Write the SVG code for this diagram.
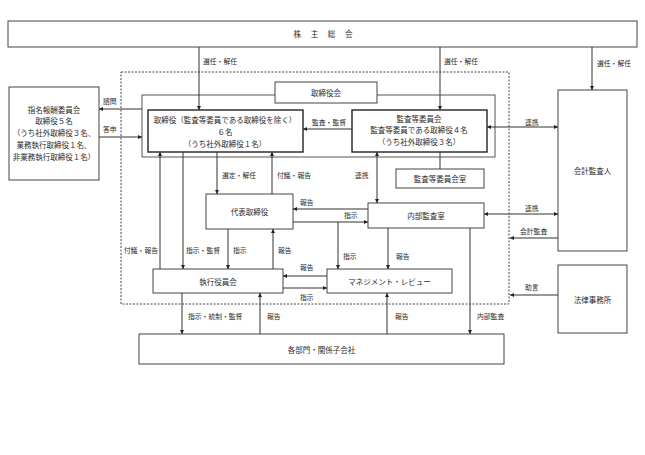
<svg xmlns="http://www.w3.org/2000/svg" width="645" height="455" viewBox="0 0 645 455">
<style>
  text { font-family: "Noto Sans CJK JP", "Noto Sans", sans-serif; fill: #2a2a2a; }
  .box { fill: #fff; stroke: #444; stroke-width: 1; }
  .bold { fill: #fff; stroke: #222; stroke-width: 1.4; }
  .t { font-size: 7.5px; text-anchor: middle; dominant-baseline: central; }
  .lbl { font-size: 6.8px; dominant-baseline: central; }
  .c { fill: none; stroke: #333; stroke-width: 1; }
</style>
<defs>
  <marker id="ah" viewBox="0 0 6 6" refX="6" refY="3" markerWidth="4" markerHeight="4" markerUnits="userSpaceOnUse" orient="auto-start-reverse">
    <path d="M0,0 L6,3 L0,6 Z" fill="#222"/>
  </marker>
</defs>
<rect width="645" height="455" fill="#fff"/>

<g id="dashed-frame">
  <rect x="121" y="72" width="388" height="232" fill="none" stroke="#444" stroke-width="1" stroke-dasharray="2,1.5"/>
</g>

<g id="kabunushi">
  <rect class="box" x="8" y="21" width="629" height="26"/>
  <text class="t" x="325" y="33.5" style="letter-spacing:4px">株 主 総 会</text>
</g>

<g id="torishimariyakukai-frame">
  <rect x="142" y="95" width="353" height="62" fill="none" stroke="#555" stroke-width="1"/>
</g>
<g id="torishimariyakukai">
  <rect class="box" x="275" y="82" width="102" height="21"/>
  <text class="t" x="326" y="92.5">取締役会</text>
</g>

<g id="shimei">
  <rect class="box" x="9" y="87" width="90" height="93"/>
  <text class="t" x="54" y="109">指名報酬委員会</text>
  <text class="t" x="54" y="120">取締役５名</text>
  <text class="t" x="54" y="132.5">（うち社外取締役３名、</text>
  <text class="t" x="54" y="144.5">業務執行取締役１名、</text>
  <text class="t" x="54" y="156.5">非業務執行取締役１名）</text>
</g>

<g id="torishimariyaku">
  <rect class="bold" x="148" y="110" width="155" height="42"/>
  <text class="t" x="225" y="119.5">取締役（監査等委員である取締役を除く）</text>
  <text class="t" x="225" y="131">６名</text>
  <text class="t" x="225" y="143">（うち社外取締役１名）</text>
</g>

<g id="kansa-iinkai">
  <rect class="bold" x="352" y="110" width="135" height="42"/>
  <text class="t" x="419" y="118">監査等委員会</text>
  <text class="t" x="419" y="129.5">監査等委員である取締役４名</text>
  <text class="t" x="419" y="141">（うち社外取締役３名）</text>
</g>

<g id="kansa-shitsu">
  <rect class="box" x="396" y="169" width="88" height="19"/>
  <text class="t" x="440" y="178.5">監査等委員会室</text>
</g>

<g id="kaikei">
  <rect class="box" x="558" y="90" width="69" height="161"/>
  <text class="t" x="592.5" y="170">会計監査人</text>
</g>

<g id="houritsu">
  <rect class="box" x="558" y="265" width="69" height="68"/>
  <text class="t" x="592.5" y="299">法律事務所</text>
</g>

<g id="daihyo">
  <rect class="box" x="206" y="194" width="87" height="35"/>
  <text class="t" x="249.5" y="211.5">代表取締役</text>
</g>

<g id="naibu">
  <rect class="box" x="368" y="203" width="116" height="25"/>
  <text class="t" x="426" y="215.5">内部監査室</text>
</g>

<g id="shikkou">
  <rect class="box" x="153" y="269" width="130" height="24"/>
  <text class="t" x="218" y="281">執行役員会</text>
</g>

<g id="management">
  <rect class="box" x="327" y="269" width="125" height="24"/>
  <text class="t" x="389.5" y="281">マネジメント・レビュー</text>
</g>

<g id="kakubumon">
  <rect class="box" x="139" y="334" width="365" height="30"/>
  <text class="t" x="321.5" y="349.5">各部門・関係子会社</text>
</g>

<g id="connectors">
  <line class="c" x1="199" y1="47" x2="199" y2="110" marker-end="url(#ah)"/>
  <line class="c" x1="440" y1="47" x2="440" y2="110" marker-end="url(#ah)"/>
  <line class="c" x1="592" y1="47" x2="592" y2="90" marker-end="url(#ah)"/>
  <line class="c" x1="142" y1="109" x2="99" y2="109" marker-end="url(#ah)"/>
  <line class="c" x1="99" y1="137" x2="142" y2="137" marker-end="url(#ah)"/>
  <line class="c" x1="352" y1="129" x2="303" y2="129" marker-end="url(#ah)"/>
  <line class="c" x1="440" y1="152" x2="440" y2="169"/>
  <line class="c" x1="487" y1="127" x2="558" y2="127" marker-start="url(#ah)" marker-end="url(#ah)"/>
  <line class="c" x1="377" y1="152" x2="377" y2="203" marker-start="url(#ah)" marker-end="url(#ah)"/>
  <line class="c" x1="217" y1="152" x2="217" y2="194" marker-end="url(#ah)"/>
  <line class="c" x1="272" y1="194" x2="272" y2="152" marker-end="url(#ah)"/>
  <line class="c" x1="160" y1="269" x2="160" y2="152" marker-end="url(#ah)"/>
  <line class="c" x1="183" y1="152" x2="183" y2="269" marker-end="url(#ah)"/>
  <line class="c" x1="228" y1="229" x2="228" y2="269" marker-end="url(#ah)"/>
  <line class="c" x1="273" y1="269" x2="273" y2="229" marker-end="url(#ah)"/>
  <line class="c" x1="368" y1="209" x2="293" y2="209" marker-end="url(#ah)"/>
  <line class="c" x1="293" y1="222" x2="368" y2="222" marker-end="url(#ah)"/>
  <line class="c" x1="338" y1="222" x2="338" y2="269" marker-end="url(#ah)"/>
  <line class="c" x1="388" y1="228" x2="388" y2="269" marker-end="url(#ah)"/>
  <line class="c" x1="470" y1="228" x2="470" y2="334" marker-end="url(#ah)"/>
  <line class="c" x1="484" y1="214" x2="558" y2="214" marker-start="url(#ah)" marker-end="url(#ah)"/>
  <line class="c" x1="558" y1="238" x2="510" y2="238" marker-end="url(#ah)"/>
  <line class="c" x1="558" y1="295" x2="510" y2="295" marker-end="url(#ah)"/>
  <line class="c" x1="327" y1="276" x2="283" y2="276" marker-end="url(#ah)"/>
  <line class="c" x1="283" y1="288" x2="327" y2="288" marker-end="url(#ah)"/>
  <line class="c" x1="182" y1="293" x2="182" y2="334" marker-end="url(#ah)"/>
  <line class="c" x1="260" y1="334" x2="260" y2="293" marker-end="url(#ah)"/>
  <line class="c" x1="387" y1="334" x2="387" y2="293" marker-end="url(#ah)"/>
</g>

<g id="labels">
  <text class="lbl" x="203" y="61">選任・解任</text>
  <text class="lbl" x="444" y="61">選任・解任</text>
  <text class="lbl" x="597" y="63">選任・解任</text>
  <text class="lbl" x="103" y="101">諮問</text>
  <text class="lbl" x="103" y="129">答申</text>
  <text class="lbl" x="312" y="122">監査・監督</text>
  <text class="lbl" x="525" y="122">連携</text>
  <text class="lbl" x="355" y="175">連携</text>
  <text class="lbl" x="222" y="175">選定・解任</text>
  <text class="lbl" x="277" y="175">付議・報告</text>
  <text class="lbl" x="124" y="250">付議・報告</text>
  <text class="lbl" x="186" y="250">指示・監督</text>
  <text class="lbl" x="233" y="250">指示</text>
  <text class="lbl" x="278" y="250">報告</text>
  <text class="lbl" x="300" y="202">報告</text>
  <text class="lbl" x="344" y="215">指示</text>
  <text class="lbl" x="343" y="256">指示</text>
  <text class="lbl" x="396" y="256">報告</text>
  <text class="lbl" x="525" y="208">連携</text>
  <text class="lbl" x="520" y="231">会計監査</text>
  <text class="lbl" x="525" y="287">助言</text>
  <text class="lbl" x="300" y="267">報告</text>
  <text class="lbl" x="300" y="297">指示</text>
  <text class="lbl" x="188" y="316">指示・統制・監督</text>
  <text class="lbl" x="267" y="316">報告</text>
  <text class="lbl" x="395" y="316">報告</text>
  <text class="lbl" x="477" y="316">内部監査</text>
</g>
</svg>
